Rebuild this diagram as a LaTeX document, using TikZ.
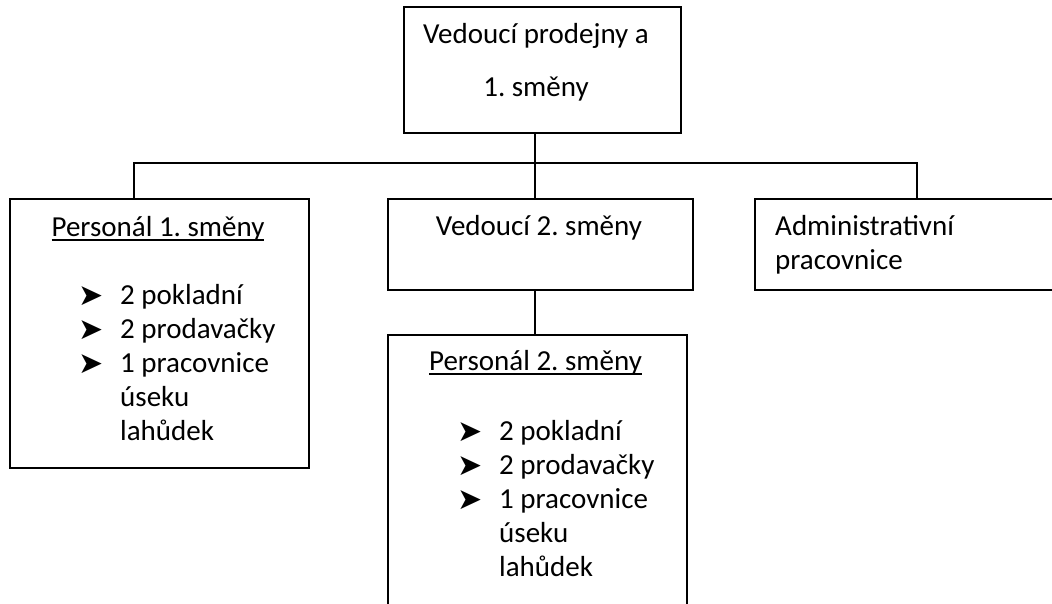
\documentclass[tikz,border=0pt]{standalone}
\usepackage{fontspec}
\setmainfont{Carlito}
\newfontfamily\dingfont{DejaVu Sans}
\usepackage{tikz}
\usetikzlibrary{calc}
\frenchspacing
\def\thickness{1.6pt}
\tikzset{box/.style={draw, line width=\thickness, rectangle, inner sep=0pt}}
\tikzset{txt/.style={inner sep=0pt, font=\fontsize{29}{34}\selectfont}}
\tikzset{wire/.style={line width=\thickness}}
\newcommand\bul{\makebox[42pt][l]{\raisebox{-1pt}{\dingfont\fontsize{30}{30}\selectfont ➤}}}
\newcommand\ind{\hspace*{42pt}}
\newcommand\ul[1]{\setbox0\hbox{#1}\rlap{\rule[-4.5pt]{\wd0}{1.4pt}}\box0}

\begin{document}
\begin{tikzpicture}[x=1pt, y=-1pt]

\useasboundingbox (0,0) rectangle (1052,603);
\clip (0,0) rectangle (1052,603);

% boxes
\node[box, minimum width=277, minimum height=126] (chief) at (542.5, 70) {};
\node[box, minimum width=299, minimum height=269] (staff1) at (159.5, 333.5) {};
\node[box, minimum width=305, minimum height=91] (shift2) at (540.5, 244.5) {};
\node[box, minimum width=324, minimum height=91] (admin) at (917, 244.5) {};
\node[box, minimum width=299, minimum height=315] (staff2) at (537.5, 492.5) {};

\coordinate (j0) at (535, 163);
\coordinate (j1) at (134, 163);
\coordinate (j3) at (917, 163);

% texts
\node[txt, anchor=north, align=center] (chieftxt) at (536, 19.2)
    {\strut Vedoucí prodejny a\\[19pt]1. směny};
\node[txt, anchor=north] (staff1ttl) at (158, 212.2) {\strut\ul{Personál 1. směny}};
\node[txt, anchor=north west, align=left] (staff1lst) at (78, 280.2)
    {\strut\bul 2 pokladní\\ \bul 2 prodavačky\\ \bul 1 pracovnice\\ \ind úseku\\ \ind lahůdek};
\node[txt, anchor=north] (shift2ttl) at (539, 211.2) {\strut Vedoucí 2. směny};
\node[txt, anchor=north west, align=left] (admintxt) at (775, 211.2)
    {\strut Administrativní\\ pracovnice};
\node[txt, anchor=north] (staff2ttl) at (535.5, 346.2) {\strut\ul{Personál 2. směny}};
\node[txt, anchor=north west, align=left] (staff2lst) at (457, 416.2)
    {\strut\bul 2 pokladní\\ \bul 2 prodavačky\\ \bul 1 pracovnice\\ \ind úseku\\ \ind lahůdek};

% connectors
\draw[wire] (chief.south -| j0) -- (shift2.north -| j0);
\draw[wire] (j1 |- staff1.north) -- (j1) -- (j3) -- (j3 |- admin.north);
\draw[wire] (shift2.south -| j0) -- (staff2.north -| j0);

\end{tikzpicture}
\end{document}
